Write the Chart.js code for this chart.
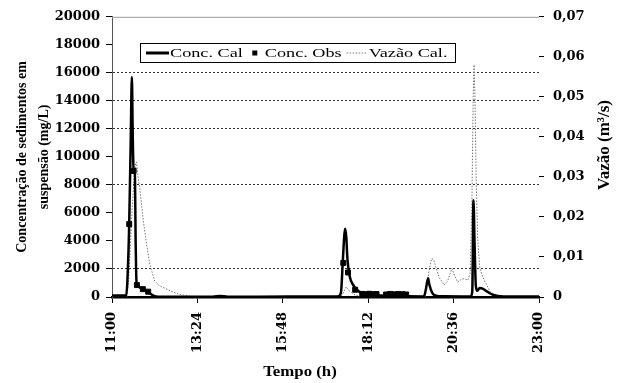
<!DOCTYPE html>
<html>
<head>
<meta charset="utf-8">
<script src="https://cdn.jsdelivr.net/npm/chart.js@4.4.1/dist/chart.umd.min.js"></script>
<style>
    html, body { margin: 0; padding: 0; background: #fff; }
</style>
</head>
<body>
<canvas id="myChart" width="621" height="383"></canvas>
<script>
// time in minutes after 11:00
let calTime = [0, 24, 26, 29, 31.5, 33.5, 35, 36.5, 38.5, 40, 41.5, 44, 48, 53, 60, 66, 72, 85, 170, 182,
    195, 300, 380, 386, 389, 391.5, 393, 395, 397, 401, 406, 411, 418, 430, 445, 470, 500, 526, 529, 533,
    535, 540, 545, 560, 605, 607.5, 609.5, 611.5, 613.5, 616, 620, 625, 632, 643, 660, 720];
let calConc = [100, 100, 1200, 5200, 11000, 15700, 11500, 9000, 8800, 3600, 900, 750, 650, 550, 380, 200, 60, 20, 20, 80,
    20, 30, 30, 300, 2400, 4300, 4870, 4300, 2700, 1450, 900, 600, 350, 180, 120, 80, 50, 40, 500, 1330,
    900, 300, 120, 50, 40, 400, 6900, 3500, 800, 450, 650, 600, 400, 140, 40, 30];

let obsTime = [29, 36.5, 42, 52, 61, 390, 398, 410, 422, 428, 434, 440, 446, 462, 469, 476, 483, 490, 496];
let obsConc = [5200, 9000, 850, 560, 380, 2430, 1750, 520, 220, 200, 230, 200, 210, 180, 220, 190, 210, 200, 180];

let flowTime = [0, 25, 28, 31, 34, 37, 40, 41.5, 44, 47, 52, 58, 64, 72, 80, 89, 100, 115, 130, 150,
    385, 390, 395, 400, 410, 420, 528, 531, 535, 539, 542, 546, 552, 560, 566, 573, 578, 583, 589, 594,
    600, 604, 607, 609, 610.5, 612, 614, 616.5, 620, 625, 630, 638, 650, 665, 720];
let flowVal = [0, 0, 0.004, 0.013, 0.022, 0.029, 0.0336, 0.0337, 0.030, 0.027, 0.020, 0.0134, 0.008, 0.004, 0.0028, 0.0022, 0.0014, 0.0006, 0.0002, 0,
    0, 0.001, 0.0025, 0.0015, 0.0005, 0, 0, 0.003, 0.007, 0.0096, 0.0094, 0.0075, 0.0048, 0.003, 0.004, 0.0071, 0.0052, 0.0037, 0.0044, 0.0046,
    0.0042, 0.006, 0.025, 0.050, 0.058, 0.050, 0.030, 0.015, 0.0075, 0.005, 0.0035, 0.0012, 0.0003, 0, 0];

let xTicks = [0, 144, 288, 432, 576, 720];
let xLabels = ['11:00', '13:24', '15:48', '18:12', '20:36', '23:00'];
let gridLevels = [16000, 14000, 12000, 8000, 2000];

let toPoints = function (xs, ys) {
    return xs.map(function (x, i) { return { x: x, y: ys[i] }; });
}

let tickFont = { family: '"DejaVu Serif"', size: 13, weight: 'bold' };

// legend box, x-axis title, right axis title, top frame line
let extras = {
    id: 'extras',
    afterDraw: function (chart) {
        const ctx = chart.ctx;
        const a = chart.chartArea;
        ctx.save();
        ctx.strokeStyle = '#999';
        ctx.lineWidth = 1;
        ctx.beginPath();
        ctx.moveTo(a.left, a.top + 0.5);
        ctx.lineTo(a.right, a.top + 0.5);
        ctx.stroke();

        ctx.fillStyle = '#000';
        ctx.textBaseline = 'middle';

        // x title
        ctx.save();
        ctx.translate(300, 372);
        ctx.scale(1.2, 1);
        ctx.font = 'bold 14px "Liberation Serif"';
        ctx.textAlign = 'center';
        ctx.fillText('Tempo (h)', 0, 0);
        ctx.restore();

        // right title
        ctx.save();
        ctx.translate(605, 145);
        ctx.rotate(-Math.PI / 2);
        ctx.font = 'bold 17px "Liberation Serif"';
        ctx.textAlign = 'center';
        ctx.fillText('Vazão (m³/s)', 0, 0);
        ctx.restore();

        // legend
        const ds = chart.data.datasets;
        const ly = 53;
        ctx.fillStyle = '#fff';
        ctx.fillRect(140, 43, 315, 19);
        ctx.strokeStyle = '#000';
        ctx.strokeRect(140.5, 43.5, 315, 19);
        ctx.font = '13px "Liberation Serif"';
        ctx.textAlign = 'left';
        let sx = 1.4;
        let drawText = function (t, x) {
            ctx.save();
            ctx.translate(x, ly + 1);
            ctx.scale(sx, 1);
            ctx.fillStyle = '#000';
            ctx.fillText(t, 0, 0);
            ctx.restore();
            return x + ctx.measureText(t).width * sx;
        }
        let x = 146;
        ctx.lineWidth = 3;
        ctx.beginPath(); ctx.moveTo(x, ly); ctx.lineTo(x + 23, ly); ctx.stroke();
        x = drawText(ds[1].label, x + 24);
        x += 12;
        ctx.fillStyle = '#000';
        ctx.fillRect(x - 2.5, ly - 2.5, 5, 5);
        x = drawText(ds[0].label, x + 10);
        x += 5;
        ctx.strokeStyle = '#777';
        ctx.lineWidth = 1;
        ctx.setLineDash([1.5, 1.5]);
        ctx.beginPath(); ctx.moveTo(x, ly); ctx.lineTo(x + 20, ly); ctx.stroke();
        ctx.setLineDash([]);
        drawText(ds[2].label, x + 22);
        ctx.restore();
    }
};

const ctx = document.getElementById('myChart').getContext('2d');
var myChart = new Chart(ctx, {
    type: 'line',
    data: {
        datasets: [{
            label: 'Conc. Obs',
            data: toPoints(obsTime, obsConc),
            showLine: false,
            pointStyle: 'rect',
            pointRadius: 3.5,
            pointBorderWidth: 1,
            pointBackgroundColor: '#000',
            pointBorderColor: '#000',
            yAxisID: 'y'
        }, {
            label: 'Conc. Cal',
            data: toPoints(calTime, calConc),
            borderColor: '#000',
            borderWidth: 2.5,
            pointRadius: 0,
            cubicInterpolationMode: 'monotone',
            fill: false,
            yAxisID: 'y'
        }, {
            label: 'Vazão Cal.',
            data: toPoints(flowTime, flowVal),
            borderColor: '#777',
            borderWidth: 1,
            borderDash: [1.5, 1.5],
            pointRadius: 0,
            tension: 0,
            fill: false,
            yAxisID: 'y2'
        }]
    },
    options: {
        responsive: false,
        animation: false,
        layout: { padding: { top: 15, left: 0, right: 0, bottom: 0 } },
        plugins: {
            legend: { display: false },
            tooltip: { enabled: false }
        },
        scales: {
            x: {
                type: 'linear',
                min: 0,
                max: 720,
                afterBuildTicks: function (scale) {
                    scale.ticks = xTicks.map(function (v) { return { value: v }; });
                },
                afterFit: function (scale) { scale.height = 86; },
                ticks: {
                    minRotation: 90,
                    maxRotation: 90,
                    padding: 9,
                    color: '#000',
                    font: tickFont,
                    callback: function (v) {
                        let i = xTicks.indexOf(v);
                        return i >= 0 ? xLabels[i] : '';
                    }
                },
                grid: { drawOnChartArea: false, tickLength: 6, tickColor: '#000', tickWidth: 1 },
                border: { display: true, color: '#000', width: 2.5 }
            },
            y: {
                position: 'left',
                min: 0,
                max: 20000,
                afterFit: function (scale) { scale.width = 112; },
                ticks: {
                    stepSize: 2000,
                    padding: 6,
                    color: '#000',
                    font: tickFont,
                    callback: function (v) { return String(v); }
                },
                grid: {
                    color: function (c) {
                        return c.tick && gridLevels.indexOf(c.tick.value) >= 0 ? '#333' : 'rgba(0,0,0,0)';
                    },
                    lineWidth: 1,
                    tickLength: 6,
                    tickColor: '#000'
                },
                border: { display: true, color: '#555', width: 1, dash: [2, 2] },
                title: {
                    display: true,
                    text: ['Concentração de sedimentos em', 'suspensão (mg/L)'],
                    color: '#000',
                    font: { family: '"Liberation Serif"', size: 14, weight: 'bold', lineHeight: 1.57 },
                    padding: { top: 11, bottom: 0 }
                }
            },
            y2: {
                position: 'right',
                min: 0,
                max: 0.07,
                afterFit: function (scale) { scale.width = 82; },
                ticks: {
                    stepSize: 0.01,
                    padding: 9,
                    color: '#000',
                    font: tickFont,
                    callback: function (v) {
                        return v === 0 ? '0' : v.toFixed(2).replace('.', ',');
                    }
                },
                grid: { drawOnChartArea: false, tickLength: 5, tickColor: '#000' },
                border: { display: false }
            }
        }
    },
    plugins: [extras]
});
</script>
</body>
</html>
